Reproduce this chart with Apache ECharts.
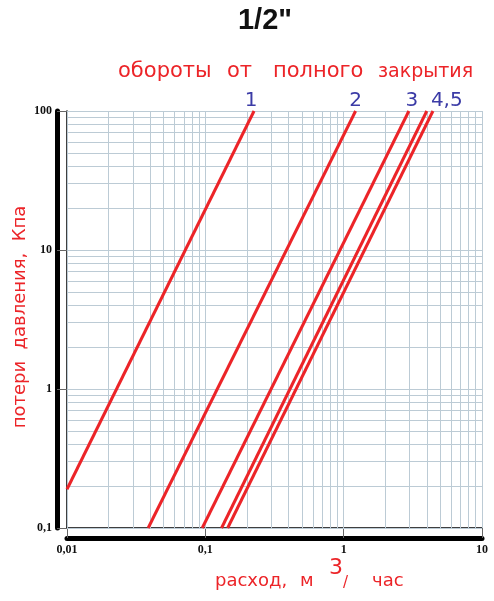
<!DOCTYPE html>
<html>
<head>
<meta charset="utf-8">
<script src="https://cdn.jsdelivr.net/npm/echarts@6/dist/echarts.min.js"></script>
<style>
html,body{margin:0;padding:0;background:#fff;}
#chart{width:494px;height:601px;}
</style>
</head>
<body>
<div id="chart"></div>
<script>
// Flow (m3/h) and pressure loss (kPa) end points for each number of turns
const flow1 = [0.01, 0.225];
const loss1 = [0.19, 100];
const flow2 = [0.0386, 1.22];
const loss2 = [0.1, 100];
const flow3 = [0.095, 2.96];
const loss3 = [0.1, 100];
const flow4 = [0.131, 3.99];
const loss4 = [0.1, 100];
const flow5 = [0.145, 4.42];
const loss5 = [0.1, 100];
const lineNames = ['1', '2', '3', '4', '5'];
const endLabels = ['1', '2', '3', '4,5', ''];

// Axis tick labels / grid values
const xTicks = [0.01, 0.1, 1, 10];
const yTicks = [0.1, 1, 10, 100];
const xGrid = [0.01,0.02,0.03,0.04,0.05,0.06,0.07,0.08,0.09,0.1,0.2,0.3,0.4,0.5,0.6,0.7,0.8,0.9,1,2,3,4,5,6,7,8,9,10];
const yGrid = [0.1,0.2,0.3,0.4,0.5,0.6,0.7,0.8,0.9,1,2,3,4,5,6,7,8,9,10,20,30,40,50,60,70,80,90,100];

const RED = '#ec2428';
const BLUE = '#3b3ba6';
const GRIDC = '#bccbd5';

function fmt(v){ return String(+(+v).toPrecision(3)).replace('.', ','); }

const flows = [flow1, flow2, flow3, flow4, flow5];
const losses = [loss1, loss2, loss3, loss4, loss5];
const labelOffsets = [[-3,0],[0,0],[3,0],[20,0],[0,0]];

const series = flows.map((f, i) => ({
  name: lineNames[i],
  type: 'line',
  xAxisIndex: 0, yAxisIndex: 0,
  symbol: 'circle',
  symbolSize: 0,
  showSymbol: true,
  lineStyle: {color: RED, width: 3},
  itemStyle: {color: RED},
  label: {show: false},
  data: f.map((q, j) => {
    const p = {value: [q, losses[i][j]]};
    if (j === f.length - 1 && endLabels[i]) {
      p.label = {show: true, position: 'top', distance: 0, offset: labelOffsets[i],
        formatter: endLabels[i], color: BLUE, fontSize: 20, fontFamily: 'DejaVu Sans'};
    }
    return p;
  }),
  z: 5
}));

series.unshift({
  name: 'grid',
  type: 'line',
  data: [],
  silent: true,
  markLine: {
    silent: true,
    symbol: 'none',
    animation: false,
    label: {show: false},
    lineStyle: {color: GRIDC, width: 1, type: 'solid'},
    data: xGrid.map(v => ({xAxis: v})).concat(yGrid.map(v => ({yAxis: v})))
  },
  z: 1
});

const chart = echarts.init(document.getElementById('chart'));
chart.setOption({
  animation: false,
  backgroundColor: '#ffffff',
  grid: {left: 67, right: 12, top: 111, bottom: 73, show: false},
  xAxis: [{
    type: 'log', logBase: 10, min: 0.01, max: 10,
    position: 'bottom', offset: 10,
    axisLine: {show: true, lineStyle: {color: '#000', width: 5}},
    axisTick: {show: true, inside: true, length: 10, lineStyle: {color: '#666'}},
    splitLine: {show: false},
    minorTick: {show: false},
    axisLabel: {margin: 6, formatter: fmt, color: '#111', fontFamily: 'Liberation Serif', fontWeight: 'bold', fontSize: 12,
      customValues: xTicks}
  }, {
    type: 'log', logBase: 10, min: 0.01, max: 10,
    position: 'bottom', offset: 0,
    axisLine: {show: true, lineStyle: {color: '#000', width: 1.5}},
    axisTick: {show: false}, axisLabel: {show: false}, splitLine: {show: false}
  }],
  yAxis: [{
    type: 'log', logBase: 10, min: 0.1, max: 100,
    position: 'left', offset: 10,
    axisLine: {show: true, lineStyle: {color: '#000', width: 5}},
    axisTick: {show: true, inside: true, length: 10, lineStyle: {color: '#666'}},
    splitLine: {show: false},
    axisLabel: {margin: 5, formatter: fmt, color: '#111', fontFamily: 'Liberation Serif', fontWeight: 'bold', fontSize: 12,
      customValues: yTicks}
  }, {
    type: 'log', logBase: 10, min: 0.1, max: 100,
    position: 'left', offset: 0,
    axisLine: {show: true, lineStyle: {color: '#000', width: 1.5}},
    axisTick: {show: false}, axisLabel: {show: false}, splitLine: {show: false}
  }],
  graphic: [
    {type: 'text', style: {text: '1/2"', x: 265, y: 21, align: 'center', verticalAlign: 'middle',
      font: 'bold 29px "Liberation Sans"', fill: '#111'}},
    {type: 'text', style: {text: 'обороты', x: 118, y: 72, verticalAlign: 'middle', font: '21px "DejaVu Sans"', fill: RED}},
    {type: 'text', style: {text: 'от', x: 227, y: 72, verticalAlign: 'middle', font: '21px "DejaVu Sans"', fill: RED}},
    {type: 'text', style: {text: 'полного', x: 273, y: 72, verticalAlign: 'middle', font: '21px "DejaVu Sans"', fill: RED}},
    {type: 'text', style: {text: 'закрытия', x: 378, y: 72, verticalAlign: 'middle', font: '19px "DejaVu Sans"', fill: RED}},
    {type: 'text', x: 20, y: 317, rotation: Math.PI/2,
      style: {text: 'потери  давления,  Кпа', x: 0, y: 0, align: 'center', verticalAlign: 'middle', font: '18px "DejaVu Sans"', fill: RED}},
    {type: 'text', style: {text: 'расход,', x: 215, y: 581, verticalAlign: 'middle', font: '18px "DejaVu Sans"', fill: RED}},
    {type: 'text', style: {text: 'м', x: 300, y: 581, verticalAlign: 'middle', font: '18px "DejaVu Sans"', fill: RED}},
    {type: 'text', style: {text: '3', x: 329, y: 568, verticalAlign: 'middle', font: '22px "DejaVu Sans"', fill: RED}},
    {type: 'text', style: {text: '/', x: 343, y: 583, verticalAlign: 'middle', font: '15px "DejaVu Sans"', fill: RED}},
    {type: 'text', style: {text: 'час', x: 372, y: 581, verticalAlign: 'middle', font: '18px "DejaVu Sans"', fill: RED}}
  ],
  series: series
});
</script>
</body>
</html>
